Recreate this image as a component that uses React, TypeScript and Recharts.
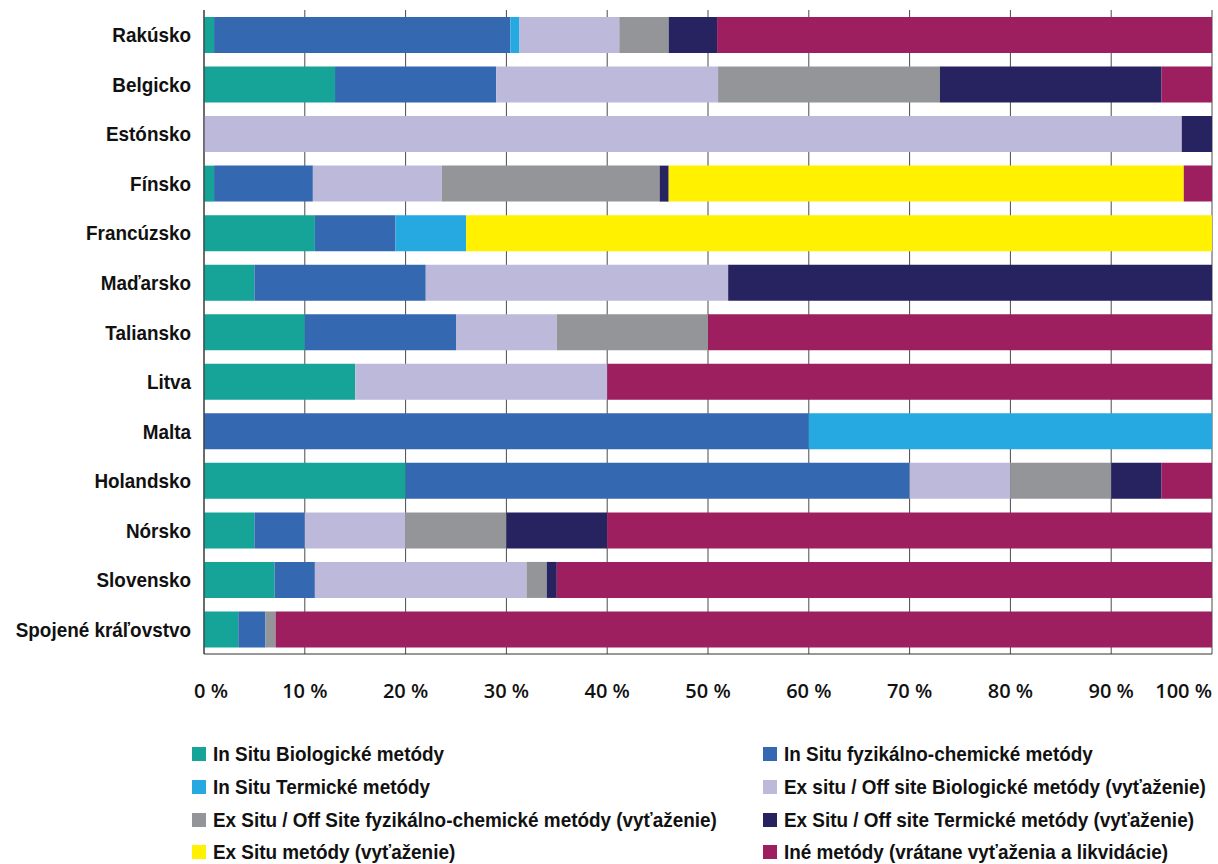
import { BarChart, Bar, XAxis, YAxis, CartesianGrid } from 'recharts'

const countries = [
  'Rakúsko',
  'Belgicko',
  'Estónsko',
  'Fínsko',
  'Francúzsko',
  'Maďarsko',
  'Taliansko',
  'Litva',
  'Malta',
  'Holandsko',
  'Nórsko',
  'Slovensko',
  'Spojené kráľovstvo',
]

// shares in % per country, same order as countries
const inSituBio = [1, 13, 0, 1, 11, 5, 10, 15, 0, 20, 5, 7, 3.4]
const inSituFyz = [29.4, 16, 0, 9.8, 8, 17, 15, 0, 60, 50, 5, 4, 2.7]
const inSituTerm = [0.9, 0, 0, 0, 7, 0, 0, 0, 40, 0, 0, 0, 0]
const exSituBio = [9.9, 22, 97, 12.8, 0, 30, 10, 25, 0, 10, 10, 21, 0]
const exSituFyz = [4.9, 22, 0, 21.6, 0, 0, 15, 0, 0, 10, 10, 2, 1]
const exSituTerm = [4.8, 22, 3, 0.9, 0, 48, 0, 0, 0, 5, 10, 1, 0]
const exSitu = [0, 0, 0, 51.1, 74, 0, 0, 0, 0, 0, 0, 0, 0]
const ine = [49.1, 5, 0, 2.8, 0, 0, 50, 60, 0, 5, 60, 65, 92.9]

const xTicks = [0, 10, 20, 30, 40, 50, 60, 70, 80, 90, 100]

const seriesNames = [
  'In Situ Biologické metódy',
  'In Situ fyzikálno-chemické metódy',
  'In Situ Termické metódy',
  'Ex situ / Off site Biologické metódy (vyťaženie)',
  'Ex Situ / Off Site fyzikálno-chemické metódy (vyťaženie)',
  'Ex Situ / Off site Termické metódy (vyťaženie)',
  'Ex Situ metódy (vyťaženie)',
  'Iné metódy (vrátane vyťaženia a likvidácie)',
]
const seriesColors = ['#16a398', '#3468b1', '#26a9e0', '#bdb9db', '#939598', '#272361', '#fff100', '#9e1f5f']
const seriesValues = [inSituBio, inSituFyz, inSituTerm, exSituBio, exSituFyz, exSituTerm, exSitu, ine]
const seriesKeys = seriesValues.map((_, i) => `s${i}`)

const data = countries.map((country, ci) => {
  const row: Record<string, string | number> = { country }
  seriesValues.forEach((vals, si) => {
    row[seriesKeys[si]] = vals[ci]
  })
  return row
})

const labelFont = "'Liberation Sans', Arial, sans-serif"
// the source uses a narrow bold face, squeeze Liberation Sans to get close
const squeeze = 0.9

const XTick = (props: any) => {
  const { x, y, payload } = props
  const v = payload.value
  let anchor: 'middle' | 'end' = 'middle'
  let dx = 0
  if (v === 0) dx = 7
  if (v === 100) anchor = 'end'
  return (
    <text
      x={x + dx}
      y={y + 44}
      textAnchor={anchor}
      fill="#111"
      fontFamily="'Open Sans', sans-serif"
      fontSize={20}
      fontWeight={600}
    >
      {`${v} %`}
    </text>
  )
}

const YTick = (props: any) => {
  const { x, y, payload } = props
  return (
    <g transform={`translate(${x},${y}) scale(${squeeze},1)`}>
      <text x={0} y={0} dy="0.36em" textAnchor="end" fill="#111" fontFamily={labelFont} fontSize={21} fontWeight={700}>
        {payload.value}
      </text>
    </g>
  )
}

export default function App() {
  return (
    <div style={{ position: 'absolute', left: 0, top: 0, width: 1218, height: 864, background: '#fff' }}>
      <BarChart
        width={1218}
        height={720}
        data={data}
        layout="vertical"
        margin={{ top: 10, right: 6, bottom: 6, left: 0 }}
        barSize={36}
      >
        <CartesianGrid horizontal={false} stroke="#4a4a4a" />
        <XAxis
          type="number"
          domain={[0, 100]}
          ticks={xTicks}
          height={60}
          tickLine={false}
          tickSize={0}
          tickMargin={0}
          axisLine={{ stroke: '#333' }}
          tick={<XTick />}
          interval={0}
        />
        <YAxis
          type="category"
          dataKey="country"
          width={204}
          tickLine={false}
          tickSize={0}
          tickMargin={13}
          axisLine={{ stroke: '#333' }}
          interval={0}
          tick={<YTick />}
        />
        {seriesKeys.map((k, i) => (
          <Bar key={k} dataKey={k} name={seriesNames[i]} stackId="a" fill={seriesColors[i]} isAnimationActive={false} />
        ))}
      </BarChart>
      <div
        style={{
          position: 'absolute',
          left: 192,
          top: 738,
          display: 'grid',
          gridTemplateColumns: '571px 460px',
          fontFamily: labelFont,
          fontSize: 21,
          fontWeight: 700,
          color: '#111',
        }}
      >
        {seriesNames.map((name, i) => (
          <div key={name} style={{ display: 'flex', alignItems: 'center', height: 32.7, whiteSpace: 'nowrap' }}>
            <span
              style={{ display: 'inline-block', flex: 'none', width: 14, height: 14, background: seriesColors[i], marginRight: 7 }}
            />
            <span style={{ display: 'inline-block', transform: `scaleX(${squeeze})`, transformOrigin: 'left center' }}>
              {name}
            </span>
          </div>
        ))}
      </div>
    </div>
  )
}
